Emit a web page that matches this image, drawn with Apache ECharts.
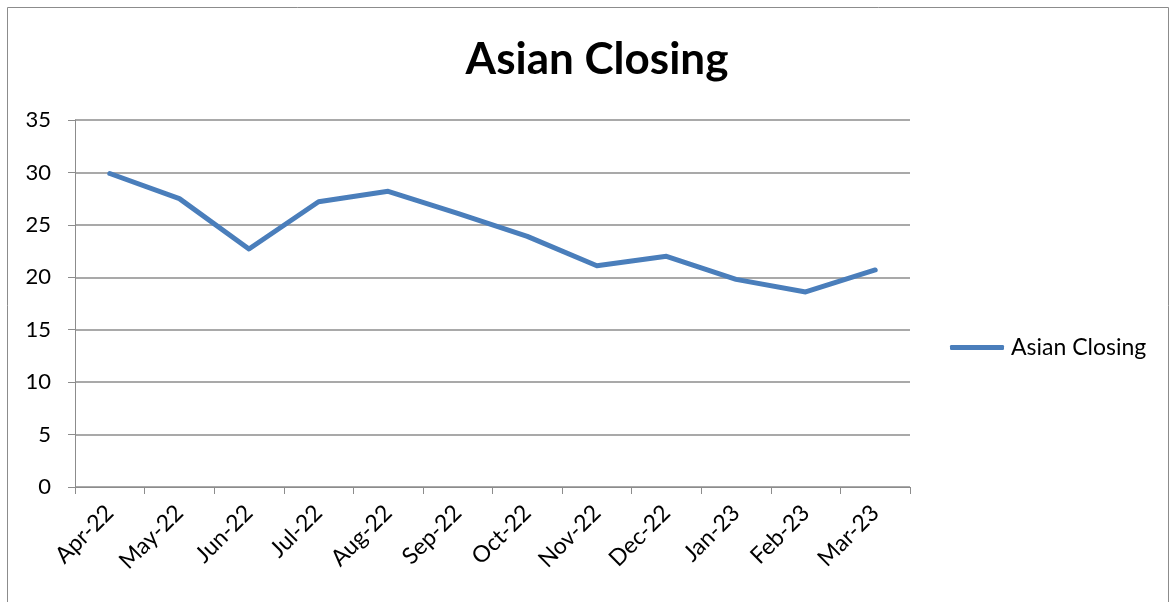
<!DOCTYPE html>
<html>
<head>
<meta charset="utf-8">
<script src="https://cdn.jsdelivr.net/npm/echarts@6/dist/echarts.min.js"></script>
<style>
html,body{margin:0;padding:0;background:#fff;}
#chart{width:1175px;height:602px;}
</style>
</head>
<body>
<div id="chart"></div>
<script>
const categories = ["Apr-22","May-22","Jun-22","Jul-22","Aug-22","Sep-22","Oct-22","Nov-22","Dec-22","Jan-23","Feb-23","Mar-23"];
const asianClosing = [29.9, 27.5, 22.7, 27.2, 28.2, 26.1, 23.9, 21.1, 22.0, 19.8, 18.6, 20.7];
const seriesName = "Asian Closing";
const titleText = "Asian Closing";

const FONT = "Lato";
const chart = echarts.init(document.getElementById('chart'), null, {renderer:'canvas'});
chart.setOption({
  animation: false,
  backgroundColor: '#ffffff',
  textStyle: {fontFamily: FONT},
  graphic: [{
    type: 'rect',
    shape: {x: 7.5, y: 7.5, width: 1161, height: 700},
    style: {fill: 'none', stroke: '#8c8c8c', lineWidth: 1},
    silent: true
  }],
  title: {
    text: titleText,
    left: 592, top: 33, textAlign: 'center',
    textStyle: {fontFamily: FONT, fontWeight: 'bold', fontSize: 44, color: '#000'}
  },
  legend: {
    left: 950, top: 336, padding: 0,
    icon: 'roundRect',
    itemWidth: 54, itemHeight: 5, itemGap: 10,
    textStyle: {fontFamily: FONT, fontSize: 23, color: '#000', padding: [0,0,0,2]},
    data: [seriesName]
  },
  grid: {left: 75, right: 265, top: 120, bottom: 115, containLabel: false},
  xAxis: {
    type: 'category',
    data: categories,
    boundaryGap: true,
    axisLine: {lineStyle: {color: '#8c8c8c', width: 1}},
    axisTick: {show: true, length: 7, alignWithLabel: false, lineStyle: {color: '#8c8c8c'}},
    axisLabel: {rotate: 45, margin: 22, fontFamily: FONT, fontSize: 23, color: '#000', interval: 0},
    splitLine: {show: false}
  },
  yAxis: {
    type: 'value',
    min: 0, max: 35, interval: 5,
    axisLine: {show: true, lineStyle: {color: '#8c8c8c', width: 1}},
    axisTick: {show: true, length: 7, lineStyle: {color: '#8c8c8c'}},
    axisLabel: {margin: 24, fontFamily: FONT, fontSize: 22, color: '#000'},
    splitLine: {show: true, lineStyle: {color: '#8c8c8c', width: 1.5}}
  },
  series: [{
    name: seriesName,
    type: 'line',
    data: asianClosing,
    symbol: 'none',
    lineStyle: {color: '#4a7ebb', width: 5, cap: 'round', join: 'round'},
    itemStyle: {color: '#4a7ebb'}
  }]
});
</script>
</body>
</html>
